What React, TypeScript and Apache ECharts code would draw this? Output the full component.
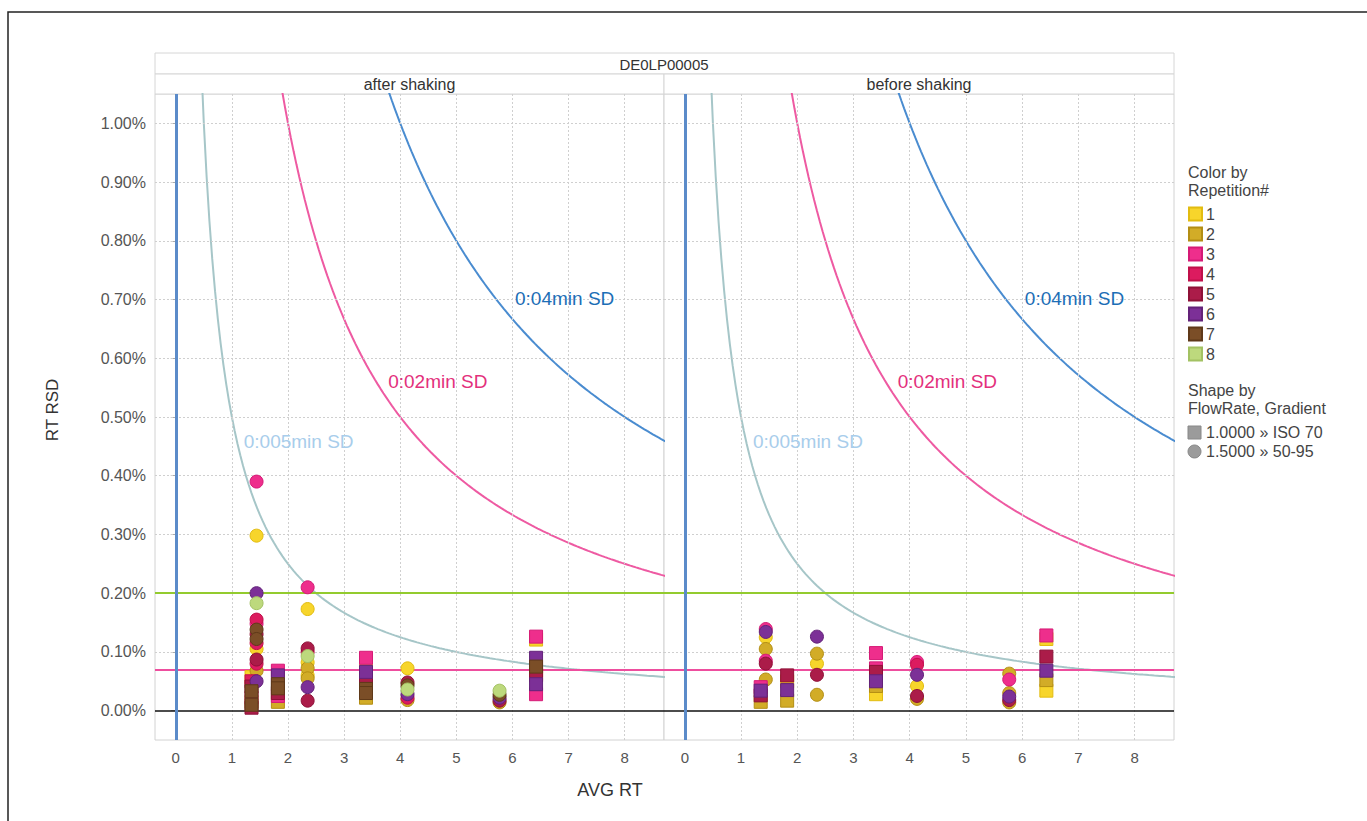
import React, { useEffect, useRef } from "react";
import * as echarts from "echarts";

// ---------- data ----------
const panelNames = ["after shaking", "before shaking"];
const headerTitle = "DE0LP00005";
const repNames = ["1", "2", "3", "4", "5", "6", "7", "8"];
const repColors = ["#F7D52B", "#D2AC27", "#EE2E8C", "#DC1B5F", "#AB1C49", "#7C3097", "#7B4E27", "#BDD97D"];
const repBorders = ["#E2BC10", "#B38E14", "#D51A76", "#C0104A", "#8E1137", "#632279", "#5F3919", "#A3C263"];
const xTicks = [0, 1, 2, 3, 4, 5, 6, 7, 8];
const yTicks = [0, 0.1, 0.2, 0.3, 0.4, 0.5, 0.6, 0.7, 0.8, 0.9, 1.0];
const sdLevels = [0.005, 0.02, 0.04];
const sdLabels = ["0:005min SD", "0:02min SD", "0:04min SD"];
const sdColors = ["#A6C6C8", "#EE5AA2", "#4A8CD0"];
const sdLabelColors = ["#A8CDEB", "#E3307C", "#1C6EB6"];
const sdLabelPos = [[2.19, 0.458], [4.67, 0.56], [6.93, 0.701]];
const refLines = [
  { value: 0.2, color: "#93CB2E", width: 2 },
  { value: 0.07, color: "#EE4E9E", width: 2 },
  { value: 0, color: "#111111", width: 1.5 },
];
const shapeLegend = ["1.0000 » ISO 70", "1.5000 » 50-95"];

// [AVG RT, RT RSD (%), repetition, shape S=square C=circle]
const afterShaking: [number, number, number, string][] = [
  [1.35, 0.057, 1, "S"], [1.35, 0.05, 4, "S"], [1.35, 0.041, 5, "S"], [1.35, 0.033, 7, "S"],
  [1.35, 0.022, 3, "S"], [1.35, 0.015, 2, "S"], [1.35, 0.01, 7, "S"], [1.35, 0.005, 5, "S"],
  [1.44, 0.39, 3, "C"], [1.44, 0.298, 1, "C"], [1.44, 0.2, 6, "C"], [1.44, 0.183, 8, "C"],
  [1.44, 0.155, 4, "C"], [1.44, 0.148, 3, "C"], [1.44, 0.138, 7, "C"], [1.44, 0.13, 5, "C"],
  [1.44, 0.122, 7, "C"], [1.44, 0.115, 4, "C"], [1.44, 0.105, 1, "C"], [1.44, 0.087, 5, "C"],
  [1.44, 0.08, 4, "C"], [1.44, 0.068, 2, "C"], [1.44, 0.05, 6, "C"],
  [1.82, 0.068, 3, "S"], [1.82, 0.06, 6, "S"], [1.82, 0.045, 7, "S"], [1.82, 0.038, 7, "S"],
  [1.82, 0.03, 5, "S"], [1.82, 0.025, 3, "S"], [1.82, 0.015, 2, "S"],
  [2.35, 0.21, 3, "C"], [2.35, 0.173, 1, "C"], [2.35, 0.106, 5, "C"], [2.35, 0.1, 4, "C"],
  [2.35, 0.093, 8, "C"], [2.35, 0.082, 1, "C"], [2.35, 0.072, 2, "C"], [2.35, 0.06, 1, "C"],
  [2.35, 0.055, 2, "C"], [2.35, 0.04, 6, "C"], [2.35, 0.017, 5, "C"],
  [3.39, 0.09, 3, "S"], [3.39, 0.081, 1, "S"], [3.39, 0.066, 6, "S"], [3.39, 0.055, 4, "S"],
  [3.39, 0.048, 5, "S"], [3.39, 0.037, 7, "S"], [3.39, 0.03, 7, "S"], [3.39, 0.022, 2, "S"],
  [4.13, 0.072, 1, "C"], [4.13, 0.048, 5, "C"], [4.13, 0.043, 7, "C"], [4.13, 0.036, 8, "C"],
  [4.13, 0.028, 6, "C"], [4.13, 0.022, 4, "C"], [4.13, 0.018, 2, "C"],
  [5.77, 0.034, 8, "C"], [5.77, 0.027, 7, "C"], [5.77, 0.022, 6, "C"], [5.77, 0.017, 5, "C"],
  [5.77, 0.014, 2, "C"],
  [6.42, 0.126, 3, "S"], [6.42, 0.121, 1, "S"], [6.42, 0.09, 6, "S"], [6.42, 0.075, 7, "S"],
  [6.42, 0.068, 4, "S"], [6.42, 0.062, 2, "S"], [6.42, 0.06, 5, "S"], [6.42, 0.045, 6, "S"],
  [6.42, 0.028, 3, "S"],
];

const beforeShaking: [number, number, number, string][] = [
  [1.35, 0.04, 3, "S"], [1.35, 0.034, 6, "S"], [1.35, 0.026, 5, "S"], [1.35, 0.015, 2, "S"],
  [1.44, 0.139, 3, "C"], [1.44, 0.134, 6, "C"], [1.44, 0.125, 1, "C"], [1.44, 0.105, 2, "C"],
  [1.44, 0.085, 3, "C"], [1.44, 0.08, 5, "C"], [1.44, 0.053, 2, "C"],
  [1.82, 0.06, 5, "S"], [1.82, 0.05, 1, "S"], [1.82, 0.035, 6, "S"], [1.82, 0.017, 2, "S"],
  [2.35, 0.126, 6, "C"], [2.35, 0.097, 2, "C"], [2.35, 0.08, 1, "C"], [2.35, 0.061, 5, "C"],
  [2.35, 0.027, 2, "C"],
  [3.4, 0.098, 3, "S"], [3.4, 0.072, 3, "S"], [3.4, 0.066, 5, "S"], [3.4, 0.05, 6, "S"],
  [3.4, 0.042, 2, "S"], [3.4, 0.028, 1, "S"],
  [4.13, 0.083, 3, "C"], [4.13, 0.078, 4, "C"], [4.13, 0.061, 6, "C"], [4.13, 0.042, 1, "C"],
  [4.13, 0.025, 5, "C"], [4.13, 0.02, 2, "C"],
  [5.77, 0.063, 2, "C"], [5.77, 0.053, 3, "C"], [5.77, 0.03, 2, "C"], [5.77, 0.024, 6, "C"],
  [5.77, 0.018, 5, "C"], [5.77, 0.014, 2, "C"],
  [6.43, 0.128, 3, "S"], [6.43, 0.122, 1, "S"], [6.43, 0.092, 5, "S"], [6.43, 0.068, 6, "S"],
  [6.43, 0.052, 2, "S"], [6.43, 0.034, 1, "S"],
];

const panels = [afterShaking, beforeShaking];

// sampling of AVG RT for the constant-SD reference curves (RSD% = SD / RT * 100)
const rtSamples = Array.from({ length: 181 }, (_, i) => +(0.3 + i * 0.05).toFixed(2));

// ---------- layout ----------
const FONT = "'Liberation Sans', Arial, sans-serif";
const NARROW = "'Liberation Sans Narrow', 'Liberation Sans', Arial, sans-serif";
const gridBoxes = [
  { left: 155, top: 94, width: 509, height: 646 },
  { left: 664, top: 94, width: 510, height: 646 },
];
const X_MIN = -0.37;
const X_MAX = 8.7;
const Y_MIN = -0.05;
const Y_MAX = 1.05;

function buildOption() {
  const series: any[] = [];
  const grid: any[] = [];
  const xAxis: any[] = [];
  const yAxis: any[] = [];

  gridBoxes.forEach((g, p) => {
    grid.push({ ...g, show: true, borderColor: "#d2d2d2", borderWidth: 1, backgroundColor: "#fff" });
    xAxis.push({
      type: "value", gridIndex: p, min: X_MIN, max: X_MAX,
      axisLine: { show: false }, axisTick: { show: false }, splitLine: { show: false },
      axisLabel: { customValues: xTicks, color: "#555", fontSize: 15, fontFamily: FONT, margin: 10 },
    });
    yAxis.push({
      type: "value", gridIndex: p, min: Y_MIN, max: Y_MAX,
      axisLine: { show: false }, splitLine: { show: false },
      axisTick: { show: p === 0, customValues: yTicks, length: 5, lineStyle: { color: "#aaa" } },
      axisLabel: {
        show: p === 0, customValues: yTicks, color: "#555", fontSize: 16, fontFamily: FONT, margin: 9,
        formatter: (v: number) => v.toFixed(2) + "%",
      },
    });

    // dotted grid lines
    series.push({
      type: "line", xAxisIndex: p, yAxisIndex: p, data: [], silent: true, z: 1,
      markLine: {
        silent: true, symbol: "none", label: { show: false }, animation: false,
        lineStyle: { color: "#cfcfcf", type: [2, 2], width: 1 },
        data: [
          ...xTicks.filter((v) => v !== 0).map((v) => ({ xAxis: v })),
          ...yTicks.filter((v) => v !== 0).map((v) => ({ yAxis: v })),
        ],
      },
    });

    // constant SD curves
    sdLevels.forEach((sd, k) => {
      series.push({
        type: "line", xAxisIndex: p, yAxisIndex: p, showSymbol: false, symbol: "none", silent: true,
        clip: true, z: 2,
        lineStyle: { color: sdColors[k], width: 2 },
        data: rtSamples.map((rt) => [rt, (sd / rt) * 100]),
        markPoint: {
          symbol: "circle", symbolSize: 1, itemStyle: { color: "rgba(0,0,0,0)" }, silent: true,
          label: {
            show: true, position: "inside", color: sdLabelColors[k], fontSize: 19, fontFamily: NARROW,
            formatter: sdLabels[k],
          },
          data: [{ coord: sdLabelPos[k] }],
        },
      });
    });

    // scatter per repetition
    repNames.forEach((name, r) => {
      const pts = panels[p].filter((d) => d[2] === r + 1);
      series.push({
        type: "scatter", name, xAxisIndex: p, yAxisIndex: p, symbolSize: 13, z: 5,
        itemStyle: { color: repColors[r], borderColor: repBorders[r], borderWidth: 1, opacity: 1 },
        data: pts.map((d) => ({ value: [d[0], d[1]], symbol: d[3] === "S" ? "rect" : "circle" })),
      });
    });

    // reference lines on top
    series.push({
      type: "line", xAxisIndex: p, yAxisIndex: p, data: [], silent: true, z: 8,
      markLine: {
        silent: true, symbol: "none", label: { show: false }, animation: false,
        data: [
          ...refLines.map((l) => ({ yAxis: l.value, lineStyle: { color: l.color, width: l.width, type: "solid" } })),
          { xAxis: 0, lineStyle: { color: "#5B8BC9", width: 3, type: "solid" } },
        ],
      },
    });
  });

  const LEG = `16px ${FONT}`;
  const graphic: any[] = [
    // outer frame
    { type: "rect", shape: { x: 8, y: 12, width: 1400, height: 840 }, style: { fill: "none", stroke: "#222", lineWidth: 1.5 }, silent: true },
    // header strips
    { type: "rect", shape: { x: 155, y: 53, width: 1019, height: 21 }, style: { fill: "#fff", stroke: "#d6d6d6", lineWidth: 1 }, silent: true },
    { type: "text", x: 664, y: 64, style: { text: headerTitle, fill: "#333", font: `15px ${FONT}`, align: "center", verticalAlign: "middle" } },
    ...panelNames.flatMap((n, p) => [
      { type: "rect", shape: { x: gridBoxes[p].left, y: 74, width: gridBoxes[p].width, height: 20 }, style: { fill: "#fff", stroke: "#d6d6d6", lineWidth: 1 }, silent: true },
      { type: "text", x: gridBoxes[p].left + gridBoxes[p].width / 2, y: 84, style: { text: n, fill: "#333", font: `16px ${FONT}`, align: "center", verticalAlign: "middle" } },
    ]),
    // axis titles
    { type: "text", x: 610, y: 790, style: { text: "AVG RT", fill: "#333", font: `18px ${FONT}`, align: "center", verticalAlign: "middle" } },
    { type: "text", x: 52, y: 410, rotation: Math.PI / 2, style: { text: "RT RSD", fill: "#333", font: `17px ${FONT}`, align: "center", verticalAlign: "middle" } },
    // legend titles
    { type: "text", x: 1188, y: 172, style: { text: "Color by", fill: "#444", font: LEG, verticalAlign: "middle" } },
    { type: "text", x: 1188, y: 190, style: { text: "Repetition#", fill: "#444", font: LEG, verticalAlign: "middle" } },
    { type: "text", x: 1188, y: 390, style: { text: "Shape by", fill: "#444", font: LEG, verticalAlign: "middle" } },
    { type: "text", x: 1188, y: 408, style: { text: "FlowRate, Gradient", fill: "#444", font: LEG, verticalAlign: "middle" } },
    { type: "rect", shape: { x: 1188, y: 426, width: 13, height: 13 }, style: { fill: "#9b9b9b", stroke: "#888", lineWidth: 1 } },
    { type: "text", x: 1206, y: 432.5, style: { text: shapeLegend[0], fill: "#444", font: LEG, verticalAlign: "middle" } },
    { type: "circle", shape: { cx: 1194.5, cy: 451.5, r: 6.5 }, style: { fill: "#9b9b9b", stroke: "#888", lineWidth: 1 } },
    { type: "text", x: 1206, y: 451.5, style: { text: shapeLegend[1], fill: "#444", font: LEG, verticalAlign: "middle" } },
  ];

  return {
    animation: false,
    backgroundColor: "#fff",
    grid, xAxis, yAxis, series, graphic,
    legend: {
      data: repNames, orient: "vertical", left: 1188, top: 206, padding: 0,
      itemWidth: 13, itemHeight: 13, itemGap: 4, icon: "rect", selectedMode: false,
      itemStyle: { opacity: 1 },
      textStyle: { color: "#444", fontSize: 16, fontFamily: FONT, padding: [0, 0, 0, -1] },
    },
  };
}

export default function App() {
  const ref = useRef<HTMLDivElement>(null);
  useEffect(() => {
    if (!ref.current) return;
    const chart = echarts.init(ref.current, undefined, { renderer: "svg" });
    chart.setOption(buildOption() as any);
    return () => chart.dispose();
  }, []);
  return <div ref={ref} style={{ position: "fixed", left: 0, top: 0, width: 1367, height: 821 }} />;
}
